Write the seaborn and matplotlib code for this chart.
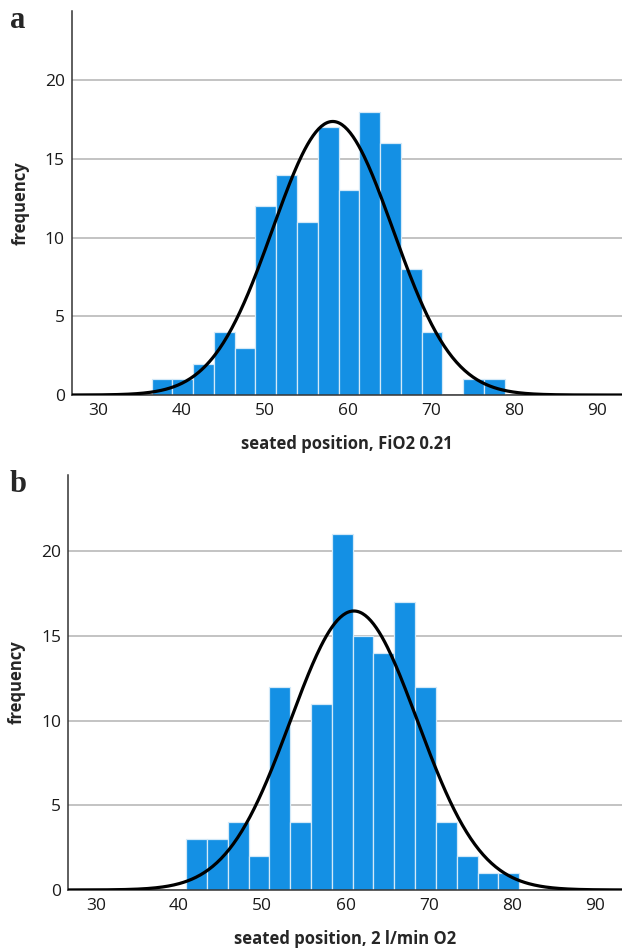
import numpy as np
import pandas as pd
import matplotlib
matplotlib.use("Agg")
import matplotlib.pyplot as plt
import seaborn as sns

# ---- data ----
bin_width = 2.5
a_start = 36.4
a_counts = [1, 1, 2, 4, 3, 12, 14, 11, 17, 13, 18, 16, 8, 4, 0, 1, 1]
a_mean, a_sd = 58.2, 7.23
a_xlabel = "seated position, FiO2 0.21"

b_start = 40.85
b_counts = [3, 3, 4, 2, 12, 4, 11, 21, 15, 14, 17, 12, 4, 2, 1, 1]
b_mean, b_sd = 61.0, 7.63
b_xlabel = "seated position, 2 l/min O2"

x_ticks = [30, 40, 50, 60, 70, 80, 90]
y_ticks = [0, 5, 10, 15, 20]
panel_letters = ["a", "b"]

sns.set_theme(style="white")
plt.rcParams["font.family"] = ["Open Sans", "DejaVu Sans"]

fig = plt.figure(figsize=(6.22, 9.5), dpi=100)
ax_a = fig.add_axes([0.1153, 0.5842, 0.8847, 0.4042])
ax_b = fig.add_axes([0.1098, 0.0632, 0.8902, 0.4368])

bar_color = "#1490E4"


def draw(ax, start, counts, mean, sd, xlabel, xlim, ylim):
    n = len(counts)
    centers = [start + bin_width * (i + 0.5) for i in range(n)]
    df = pd.DataFrame({"value": centers, "count": counts})
    ax.set_axisbelow(True)
    ax.yaxis.grid(True, color="#BEBEBE", linewidth=1.3)
    ax.xaxis.grid(False)
    sns.histplot(data=df, x="value", weights="count", binwidth=bin_width,
                 binrange=(start, start + n * bin_width), ax=ax,
                 color=bar_color, alpha=1.0, edgecolor="#D3E9F8",
                 linewidth=0.9, zorder=2)
    total = float(np.sum(counts))
    xs = np.linspace(xlim[0], xlim[1], 400)
    ys = total * bin_width * np.exp(-0.5 * ((xs - mean) / sd) ** 2) / (sd * np.sqrt(2 * np.pi))
    sns.lineplot(x=xs, y=ys, ax=ax, color="black", linewidth=2.3, zorder=3)
    ax.set_xlim(*xlim)
    ax.set_ylim(*ylim)
    ax.set_xticks(x_ticks)
    ax.set_yticks(y_ticks)
    ax.tick_params(axis="both", length=0, labelsize=12.5, colors="#1a1a1a")
    ax.tick_params(axis="x", pad=6)
    ax.tick_params(axis="y", pad=5)
    for s in ["top", "right"]:
        ax.spines[s].set_visible(False)
    ax.spines["left"].set_color("#333333")
    ax.spines["left"].set_linewidth(1.1)
    ax.spines["bottom"].set_color("#333333")
    ax.spines["bottom"].set_linewidth(1.1)
    ax.set_ylabel("frequency", fontsize=12, fontweight="bold", labelpad=11)
    ax.set_xlabel(xlabel, fontsize=12, fontweight="bold", labelpad=11)


draw(ax_a, a_start, a_counts, a_mean, a_sd, a_xlabel, (26.8, 93.0), (0, 24.4))
draw(ax_b, b_start, b_counts, b_mean, b_sd, b_xlabel, (26.7, 93.2), (0, 24.5))

fig.text(10 / 622, 1 - 20 / 950, panel_letters[0], fontsize=22, fontweight="bold",
         family=["Liberation Serif", "DejaVu Serif"], ha="left", va="center")
fig.text(10 / 622, 1 - 484 / 950, panel_letters[1], fontsize=22, fontweight="bold",
         family=["Liberation Serif", "DejaVu Serif"], ha="left", va="center")

fig.savefig("out.png", dpi=100)
